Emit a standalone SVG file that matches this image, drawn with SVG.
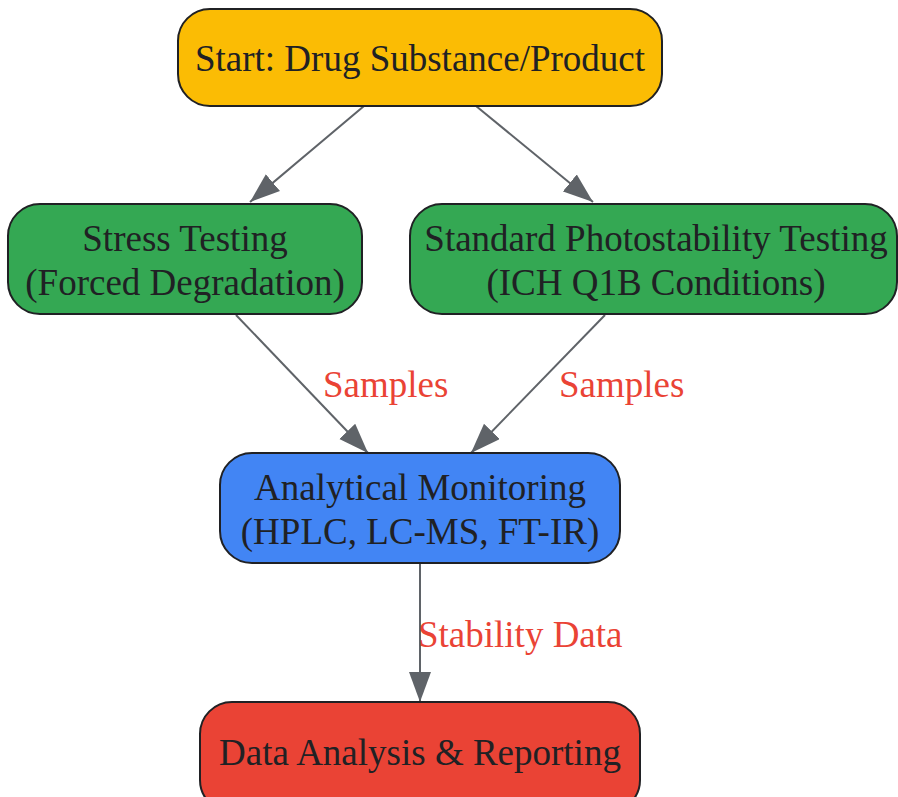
<svg xmlns="http://www.w3.org/2000/svg" width="898" height="797" viewBox="0 0 898 797">
<style>
.node{stroke:#202124;stroke-width:2}
.t{font-family:"Liberation Serif","Times New Roman",serif;font-size:37px;fill:#202124;text-anchor:middle}
.lbl{font-family:"Liberation Serif","Times New Roman",serif;font-size:37px;fill:#EA4335}
.edge{stroke:#5F6368;stroke-width:2;fill:none}
</style>
<defs>
<marker id="arr" markerUnits="userSpaceOnUse" markerWidth="31" markerHeight="23" refX="30" refY="11" orient="auto" viewBox="0 0 31 23">
<path d="M0,0 L30,11 L0,22 z" fill="#5F6368"/>
</marker>
</defs>
<rect width="898" height="797" fill="#ffffff"/>
<g id="edges">
<line class="edge" x1="364" y1="106" x2="250" y2="202" marker-end="url(#arr)"/>
<line class="edge" x1="476" y1="106" x2="593" y2="202" marker-end="url(#arr)"/>
<line class="edge" x1="236" y1="315" x2="368" y2="453" marker-end="url(#arr)"/>
<line class="edge" x1="605" y1="315" x2="471" y2="453" marker-end="url(#arr)"/>
<line class="edge" x1="420" y1="564" x2="420" y2="702" marker-end="url(#arr)"/>
<text class="lbl" x="323" y="397">Samples</text>
<text class="lbl" x="559" y="397">Samples</text>
<text class="lbl" x="418" y="647">Stability Data</text>
</g>
<g id="start">
<rect class="node" x="178" y="9" width="484" height="97" rx="32" fill="#FBBC04"/>
<text class="t" x="420" y="71">Start: Drug Substance/Product</text>
</g>
<g id="stress">
<rect class="node" x="8" y="204" width="354" height="110" rx="32" fill="#34A853"/>
<text class="t" x="185" y="251">Stress Testing</text>
<text class="t" x="185" y="295">(Forced Degradation)</text>
</g>
<g id="photo">
<rect class="node" x="410" y="204" width="487" height="110" rx="32" fill="#34A853"/>
<text class="t" x="656" y="251">Standard Photostability Testing</text>
<text class="t" x="656" y="295">(ICH Q1B Conditions)</text>
</g>
<g id="analytical">
<rect class="node" x="220" y="453" width="400" height="110" rx="32" fill="#4285F4"/>
<text class="t" x="420" y="500">Analytical Monitoring</text>
<text class="t" x="420" y="544">(HPLC, LC-MS, FT-IR)</text>
</g>
<g id="report">
<rect class="node" x="200" y="702" width="440" height="110" rx="32" fill="#EA4335"/>
<text class="t" x="420" y="765">Data Analysis &amp; Reporting</text>
</g>
</svg>
